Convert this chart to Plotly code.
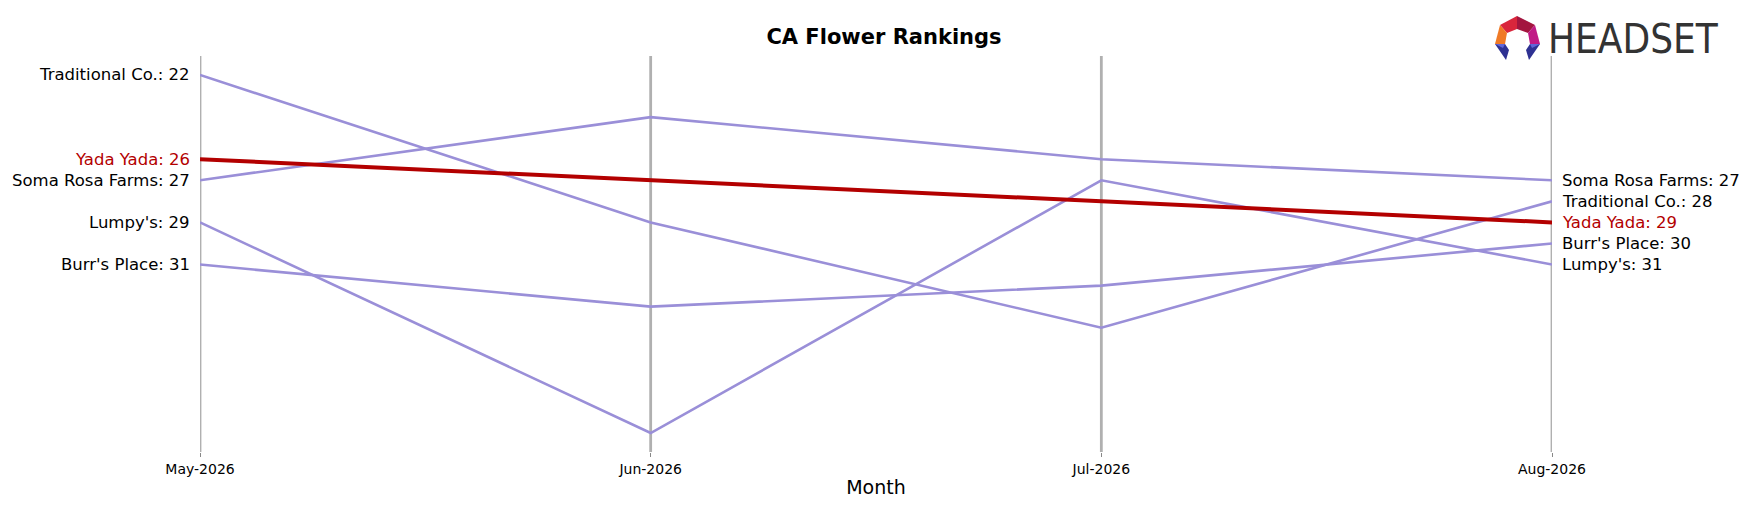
import plotly.graph_objects as go
import base64

months = ["May-2026", "Jun-2026", "Jul-2026", "Aug-2026"]
brands = ["Traditional Co.", "Soma Rosa Farms", "Lumpy's", "Burr's Place", "Yada Yada"]
traditional = [22, 29, 34, 28]
soma = [27, 24, 26, 27]
lumpys = [29, 39, 27, 31]
burrs = [31, 33, 32, 30]
yada = [26, 27, 28, 29]
series = [traditional, soma, lumpys, burrs, yada]

W, H = 1752, 507
L, R, T, B = 192, 208, 48, 63
fig = go.Figure()
x = list(range(len(months)))
for name, vals in zip(brands, series):
    hl = name == "Yada Yada"
    fig.add_trace(go.Scatter(x=x, y=vals, mode="lines", name=name,
                             line=dict(color="#b30000" if hl else "#9a8fd8", width=4 if hl else 2.6)))
for i in x:
    fig.add_vline(x=i, line=dict(color="#b0b0b0", width=2.8), layer="below")

ann = []
for name, vals in zip(brands, series):
    c = "#b30000" if name == "Yada Yada" else "black"
    ann.append(dict(x=0, y=vals[0], xref="x", yref="y", text=f"{name}: {vals[0]}", showarrow=False,
                    xanchor="right", xshift=-8, font=dict(size=16.5, color=c)))
    ann.append(dict(x=3, y=vals[-1], xref="x", yref="y", text=f"{name}: {vals[-1]}", showarrow=False,
                    xanchor="left", xshift=8, font=dict(size=16.5, color=c)))

svg = """<svg xmlns='http://www.w3.org/2000/svg' width='48' height='46' viewBox='0 0 48 46'>
<polygon points='6,10 23,1 23,14 13,18' fill='#d9263c'/>
<polygon points='23,1 41,10 34,18 23,14' fill='#a3153f'/>
<polygon points='6,10 13,18 11,29 1,29' fill='#f07a26'/>
<polygon points='41,10 46,29 36,29 34,18' fill='#c01a86'/>
<polygon points='1,29 11,29 15,35 12,45' fill='#2e3192'/>
<polygon points='1,29 11,29 9,33' fill='#6066d8'/>
<polygon points='46,29 36,29 32,35 35,45' fill='#2e3192'/>
<polygon points='46,29 36,29 38,33' fill='#6066d8'/>
</svg>"""
uri = "data:image/svg+xml;base64," + base64.b64encode(svg.encode()).decode()

def px(p):
    return ((p[0] - L) / (W - L - R), (H - B - p[1]) / (H - T - B))

ix, iy = px((1486, 7))
fig.add_layout_image(dict(source=uri, xref="paper", yref="paper", x=ix, y=iy, sizex=48 / (W - L - R),
                          sizey=46 / (H - T - B), xanchor="left", yanchor="top", sizing="stretch"))
hx, hy = px((1538, 31))
ann.append(dict(x=hx, y=hy, xref="paper", yref="paper", text="HEADSET",
                showarrow=False, xanchor="left", yanchor="middle",
                font=dict(family="DejaVu Sans Condensed, Liberation Sans Narrow, Liberation Sans", size=40, color="#333333")))

fig.update_layout(
    width=W, height=H, margin=dict(l=L, r=R, t=T, b=B),
    plot_bgcolor="white", paper_bgcolor="white", showlegend=False,
    font=dict(family="DejaVu Sans", color="black"),
    title=dict(text="<b>CA Flower Rankings</b>", x=0.5, xanchor="center", y=1 - 29 / H, yanchor="middle",
               font=dict(size=21)),
    annotations=ann,
    xaxis=dict(range=[0, 3], tickvals=x, ticktext=months, showgrid=False, zeroline=False,
               ticks="outside", ticklen=4, tickcolor="#888", tickfont=dict(size=14),
               title=dict(text="Month", font=dict(size=19), standoff=4), showline=False),
    yaxis=dict(range=[39.9, 21.1], visible=False),
)
fig.write_html("out.html")
